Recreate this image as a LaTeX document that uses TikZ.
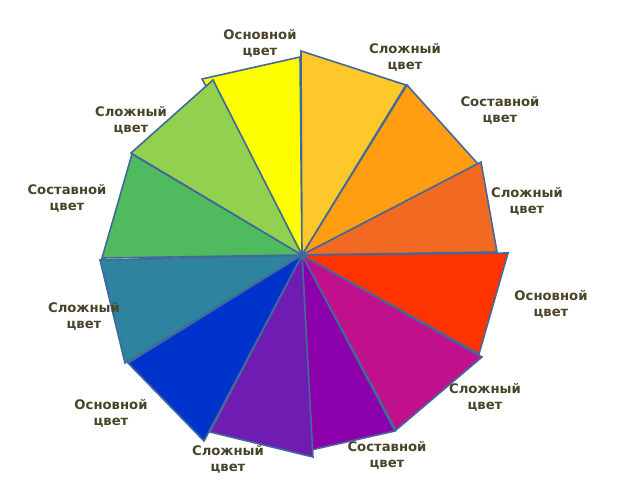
\documentclass[tikz,border=0pt]{standalone}
\usepackage{fontspec}
\setmainfont{DejaVu Sans}
\definecolor{edge}{RGB}{65,105,155}
\definecolor{txt}{RGB}{73,68,41}
\definecolor{cA}{RGB}{255,200,42}
\definecolor{cB}{RGB}{255,158,16}
\definecolor{cC}{RGB}{242,106,33}
\definecolor{cD}{RGB}{255,51,0}
\definecolor{cE}{RGB}{192,16,140}
\definecolor{cF}{RGB}{140,0,172}
\definecolor{cG}{RGB}{110,28,178}
\definecolor{cH}{RGB}{0,51,204}
\definecolor{cI}{RGB}{46,131,158}
\definecolor{cJ}{RGB}{80,186,94}
\definecolor{cK}{RGB}{146,208,80}
\definecolor{cL}{RGB}{255,255,0}
\tikzset{
  sector/.style={draw=edge, line width=1.6pt, line join=miter},
  lbl/.style={text=txt, align=center, font=\fontsize{13.2}{15.8}\selectfont\bfseries, inner sep=0pt}
}
\begin{document}
\begin{tikzpicture}[x=1pt,y=-1pt]
\useasboundingbox (0,0) rectangle (640,480);
\coordinate (c) at (302,255);
% sectors
\filldraw[sector, fill=cL] (c) -- (202,79) -- (300,57) -- cycle;
\filldraw[sector, fill=cA] (c) -- (301,51) -- (406,85) -- cycle;
\filldraw[sector, fill=cB] (c) -- (407,85) -- (478,164) -- cycle;
\filldraw[sector, fill=cC] (c) -- (481,162) -- (497,252) -- cycle;
\filldraw[sector, fill=cD] (c) -- (508,253) -- (479,354) -- cycle;
\filldraw[sector, fill=cE] (c) -- (482,357) -- (396,430) -- cycle;
\filldraw[sector, fill=cF] (c) -- (395,431) -- (311,450) -- cycle;
\filldraw[sector, fill=cG] (c) -- (313,457) -- (210,432) -- cycle;
\filldraw[sector, fill=cH] (c) -- (204,441) -- (128,363) -- cycle;
\filldraw[sector, fill=cI] (c) -- (125,363) -- (100,260) -- cycle;
\filldraw[sector, fill=cJ] (c) -- (102,258) -- (132,154) -- cycle;
\filldraw[sector, fill=cK] (c) -- (131,153) -- (213,80) -- cycle;
% labels
\node[lbl] (l1) at (260,43) {Основной\\цвет};
\node[lbl] (l2) at (405,57) {Сложный\\цвет};
\node[lbl] (l3) at (500,110) {Составной\\цвет};
\node[lbl] (l4) at (527,201) {Сложный\\цвет};
\node[lbl] (l5) at (551,304) {Основной\\цвет};
\node[lbl] (l6) at (485,397) {Сложный\\цвет};
\node[lbl] (l7) at (387,455) {Составной\\цвет};
\node[lbl] (l8) at (228,459) {Сложный\\цвет};
\node[lbl] (l9) at (111,413) {Основной\\цвет};
\node[lbl] (l10) at (84,316) {Сложный\\цвет};
\node[lbl] (l11) at (67,198) {Составной\\цвет};
\node[lbl] (l12) at (131,120) {Сложный\\цвет};
\end{tikzpicture}
\end{document}
